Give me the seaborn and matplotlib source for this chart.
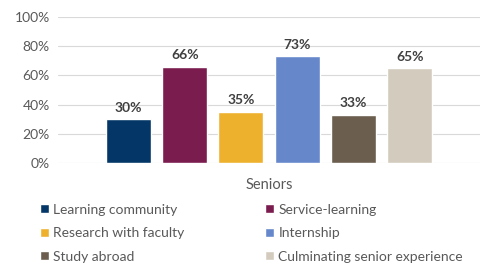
import matplotlib
matplotlib.use("Agg")
import matplotlib.pyplot as plt
import seaborn as sns
import pandas as pd
from matplotlib.ticker import PercentFormatter

# data
categories = ["Learning community", "Service-learning", "Research with faculty",
              "Internship", "Study abroad", "Culminating senior experience"]
values = [0.30, 0.66, 0.35, 0.73, 0.33, 0.65]
group = "Seniors"
colors = ["#043767", "#7B1C4F", "#EEB12E", "#6688CB", "#6B5E4E", "#D3CBBE"]

df = pd.DataFrame({"group": [group] * len(categories),
                   "category": categories,
                   "value": values})

sns.set_style("white")
plt.rcParams["font.family"] = ["Lato", "DejaVu Sans"]

fig = plt.figure(figsize=(4.81, 2.66), dpi=100)
ax = fig.add_axes([0.121, 0.387, 0.877, 0.549])

sns.barplot(data=df, x="group", y="value", hue="category", palette=colors,
            width=0.8, gap=0.2, saturation=1, ax=ax, legend=True)

for cont, v in zip(ax.containers, values):
    ax.bar_label(cont, labels=[f"{v:.0%}"], padding=4, fontsize=10,
                 fontweight="bold", color="#404040")

ax.set_ylim(0, 1)
ax.set_xlim(-0.5, 0.5)
ax.yaxis.set_major_formatter(PercentFormatter(1.0, decimals=0))
ax.set_yticks([0, 0.2, 0.4, 0.6, 0.8, 1.0])
ax.grid(axis="y", color="#D9D9D9", linewidth=0.8)
ax.set_axisbelow(True)
for s in ax.spines.values():
    s.set_visible(False)
ax.tick_params(axis="both", length=0, labelsize=10, labelcolor="#595959")
ax.tick_params(axis="y", pad=6)
ax.tick_params(axis="x", pad=11, labelsize=10.5)
ax.set_xlabel("")
ax.set_ylabel("")

# legend: reorder so it fills row by row as in the reference
handles, labels = ax.get_legend_handles_labels()
ax.get_legend().remove()
order = [0, 2, 4, 1, 3, 5]
fig.legend([handles[i] for i in order], [labels[i] for i in order],
           ncol=2, loc="upper left", bbox_to_anchor=(0.072, 0.255),
           frameon=False, fontsize=10, labelcolor="#595959",
           handlelength=0.6, handleheight=0.6, handletextpad=0.35,
           columnspacing=5.8, labelspacing=0.82, borderaxespad=0)

fig.savefig("out.png", dpi=100)
